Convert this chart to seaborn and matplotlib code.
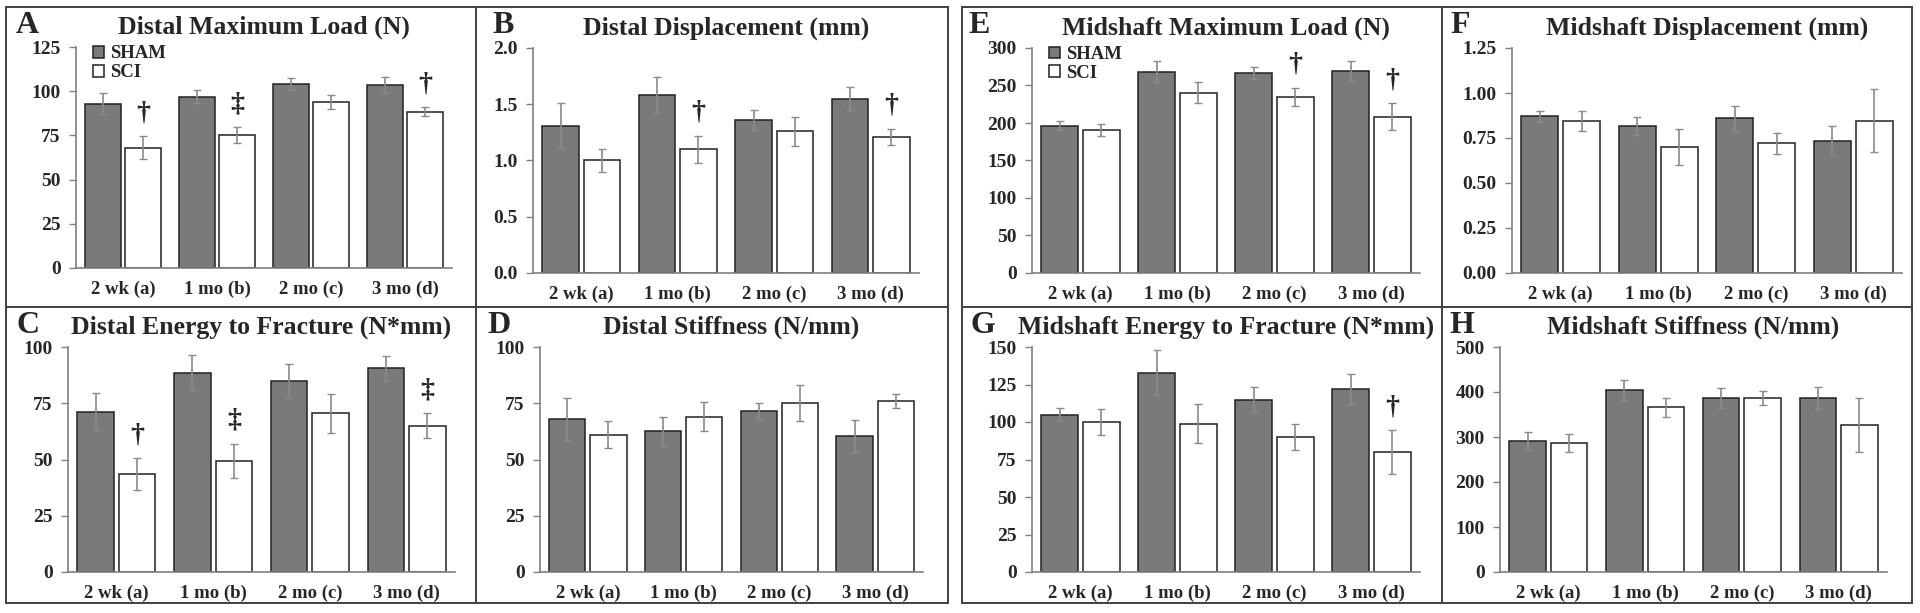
import numpy as np
import pandas as pd
import matplotlib
matplotlib.use("Agg")
import matplotlib.pyplot as plt
import seaborn as sns

# ── Data (mean, SEM) ──────────────────────────────────────
timepoints = ["2 wk (a)", "1 mo (b)", "2 mo (c)", "3 mo (d)"]
groups = ["SHAM", "SCI"]

dist_load_sham = [93, 97, 104, 103.5]
dist_load_sham_err = [6, 3.5, 3.5, 4.5]
dist_load_sci = [68, 75, 94, 88.5]
dist_load_sci_err = [6.5, 4.5, 4, 2.5]
dist_load_marks = ["†", "‡", "", "†"]

dist_disp_sham = [1.31, 1.58, 1.36, 1.55]
dist_disp_sham_err = [0.2, 0.16, 0.09, 0.1]
dist_disp_sci = [1.0, 1.1, 1.26, 1.21]
dist_disp_sci_err = [0.1, 0.12, 0.13, 0.07]
dist_disp_marks = ["", "†", "", "†"]

dist_energy_sham = [71, 88.5, 85, 90.5]
dist_energy_sham_err = [8.5, 8, 7.5, 5.5]
dist_energy_sci = [43.5, 49.5, 70.5, 65]
dist_energy_sci_err = [7, 7.5, 8.5, 5.5]
dist_energy_marks = ["†", "‡", "", "‡"]

dist_stiff_sham = [68, 62.5, 71.5, 60.5]
dist_stiff_sham_err = [9.5, 6.5, 3.5, 7]
dist_stiff_sci = [61, 69, 75, 76]
dist_stiff_sci_err = [6, 6.5, 8, 3]
dist_stiff_marks = ["", "", "", ""]

mid_load_sham = [196, 268, 267, 269]
mid_load_sham_err = [6, 14, 8, 13]
mid_load_sci = [191, 240, 235, 208]
mid_load_sci_err = [8, 14, 12, 18]
mid_load_marks = ["", "", "†", "†"]

mid_disp_sham = [0.87, 0.815, 0.86, 0.735]
mid_disp_sham_err = [0.03, 0.05, 0.07, 0.08]
mid_disp_sci = [0.845, 0.70, 0.72, 0.845]
mid_disp_sci_err = [0.055, 0.1, 0.06, 0.175]
mid_disp_marks = ["", "", "", ""]

mid_energy_sham = [105, 133, 115, 122]
mid_energy_sham_err = [4.5, 15, 8.5, 10]
mid_energy_sci = [100, 99, 90, 80]
mid_energy_sci_err = [8.5, 13, 8.5, 14.5]
mid_energy_marks = ["", "", "", "†"]

mid_stiff_sham = [291, 404, 387, 387]
mid_stiff_sham_err = [20, 22, 23, 25]
mid_stiff_sci = [287, 366, 387, 327]
mid_stiff_sci_err = [20, 21, 15, 60]
mid_stiff_marks = ["", "", "", ""]

W, H = 1920, 613

# letter, title, sham, sham_err, sci, sci_err, marks, ymax, ystep, fmt,
# axes box (px: left, top, right, bottom), letter position (px: x, baseline), legend
panels = [
    ("A", "Distal Maximum Load (N)", dist_load_sham, dist_load_sham_err, dist_load_sci, dist_load_sci_err,
     dist_load_marks, 125, 25, "{:.0f}", (76, 47, 452, 268), (16, 33), True),
    ("B", "Distal Displacement (mm)", dist_disp_sham, dist_disp_sham_err, dist_disp_sci, dist_disp_sci_err,
     dist_disp_marks, 2.0, 0.5, "{:.1f}", (533, 48, 919, 273), (492, 33), False),
    ("C", "Distal Energy to Fracture (N*mm)", dist_energy_sham, dist_energy_sham_err, dist_energy_sci,
     dist_energy_sci_err, dist_energy_marks, 100, 25, "{:.0f}", (68, 347, 455, 572), (17, 333), False),
    ("D", "Distal Stiffness (N/mm)", dist_stiff_sham, dist_stiff_sham_err, dist_stiff_sci, dist_stiff_sci_err,
     dist_stiff_marks, 100, 25, "{:.0f}", (540, 347, 923, 572), (487, 333), False),
    ("E", "Midshaft Maximum Load (N)", mid_load_sham, mid_load_sham_err, mid_load_sci, mid_load_sci_err,
     mid_load_marks, 300, 50, "{:.0f}", (1032, 48, 1420, 273), (968, 33), True),
    ("F", "Midshaft Displacement (mm)", mid_disp_sham, mid_disp_sham_err, mid_disp_sci, mid_disp_sci_err,
     mid_disp_marks, 1.25, 0.25, "{:.2f}", (1512, 48, 1902, 273), (1450, 33), False),
    ("G", "Midshaft Energy to Fracture (N*mm)", mid_energy_sham, mid_energy_sham_err, mid_energy_sci,
     mid_energy_sci_err, mid_energy_marks, 150, 25, "{:.0f}", (1032, 347, 1420, 572), (970, 333), False),
    ("H", "Midshaft Stiffness (N/mm)", mid_stiff_sham, mid_stiff_sham_err, mid_stiff_sci, mid_stiff_sci_err,
     mid_stiff_marks, 500, 100, "{:.0f}", (1500, 347, 1887, 572), (1450, 333), False),
]

sns.set_style("white")
plt.rcParams["font.family"] = ["Liberation Serif", "DejaVu Serif"]
plt.rcParams["font.weight"] = "bold"

SHAM_COLOR = "#7a7a7a"
AXIS_COLOR = "#808080"
EDGE_COLOR = "#202020"

fig = plt.figure(figsize=(W / 100, H / 100), dpi=100)

for letter, title, sham, sham_err, sci, sci_err, marks, ymax, ystep, fmt, box, lpos, show_leg in panels:
    l, t, r, b = box
    ax = fig.add_axes([l / W, 1 - b / H, (r - l) / W, (b - t) / H])

    df = pd.DataFrame({
        "time": timepoints * 2,
        "group": ["SHAM"] * 4 + ["SCI"] * 4,
        "value": list(sham) + list(sci),
    })
    sns.barplot(data=df, x="time", y="value", hue="group", order=timepoints, hue_order=groups,
                palette={"SHAM": SHAM_COLOR, "SCI": "white"}, edgecolor=EDGE_COLOR, linewidth=1.1,
                width=0.86, gap=0.12, errorbar=None, legend=False, ax=ax)

    # error bars + significance marks
    for cont, vals, errs in zip(ax.containers, [sham, sci], [sham_err, sci_err]):
        xs = [p.get_x() + p.get_width() / 2 for p in cont.patches]
        ax.errorbar(xs, vals, yerr=errs, fmt="none", ecolor="#8a8a8a", elinewidth=1.2,
                    capsize=3, capthick=1.0, zorder=5)
    sci_x = [p.get_x() + p.get_width() / 2 for p in ax.containers[1].patches]
    for x, v, e, m in zip(sci_x, sci, sci_err, marks):
        if m:
            ax.annotate(m, (x, v + e), xytext=(0, 8), textcoords="offset points",
                        ha="center", va="bottom", fontsize=20, fontweight="bold")

    ax.set_xlim(-0.5, 3.5)
    ax.set_ylim(0, ymax)
    yt = np.arange(0, ymax + ystep / 2, ystep)
    ax.set_yticks(yt)
    ax.set_yticklabels([fmt.format(v) for v in yt], fontsize=14, fontweight="bold")
    ax.set_xticks(range(4))
    ax.set_xticklabels(timepoints, fontsize=13.5, fontweight="bold")
    ax.set_xticks(np.arange(-0.5, 4, 1), minor=True)
    ax.tick_params(axis="x", which="major", length=0, pad=9)
    ax.tick_params(axis="x", which="minor", length=6, width=1, color=AXIS_COLOR, direction="out")
    ax.tick_params(axis="y", length=5, width=1, color=AXIS_COLOR, direction="out", pad=6, left=True)
    ax.set_xlabel("")
    ax.set_ylabel("")
    sns.despine(ax=ax)
    for s in ("left", "bottom"):
        ax.spines[s].set_color(AXIS_COLOR)
        ax.spines[s].set_linewidth(1.2)

    ax.set_title(title, fontsize=18.5, fontweight="bold", pad=10)

    if show_leg:
        ax.legend(ax.containers, groups, loc="upper left", bbox_to_anchor=(0.02, 1.05),
                  frameon=False, handlelength=0.6, handleheight=0.6,
                  handletextpad=0.3, labelspacing=0.1, borderpad=0,
                  prop={"weight": "bold", "size": 13.5})

    # panel letter
    fig.text(lpos[0] / W, 1 - lpos[1] / H, letter,
             fontsize=23, fontweight="bold", va="baseline", ha="left")

# panel frames
for gx0, gx1, gxm in [(6, 948, 476), (962, 1912, 1442)]:
    y0, y1, ym = 7, 603, 307
    fig.add_artist(plt.Rectangle((gx0 / W, 1 - y1 / H), (gx1 - gx0) / W, (y1 - y0) / H,
                                 transform=fig.transFigure, fill=False, edgecolor="#404040", lw=1.4))
    fig.add_artist(plt.Line2D([gxm / W, gxm / W], [1 - y1 / H, 1 - y0 / H],
                              transform=fig.transFigure, color="#404040", lw=1.4))
    fig.add_artist(plt.Line2D([gx0 / W, gx1 / W], [1 - ym / H, 1 - ym / H],
                              transform=fig.transFigure, color="#404040", lw=1.4))

fig.savefig("out.png", dpi=100)
